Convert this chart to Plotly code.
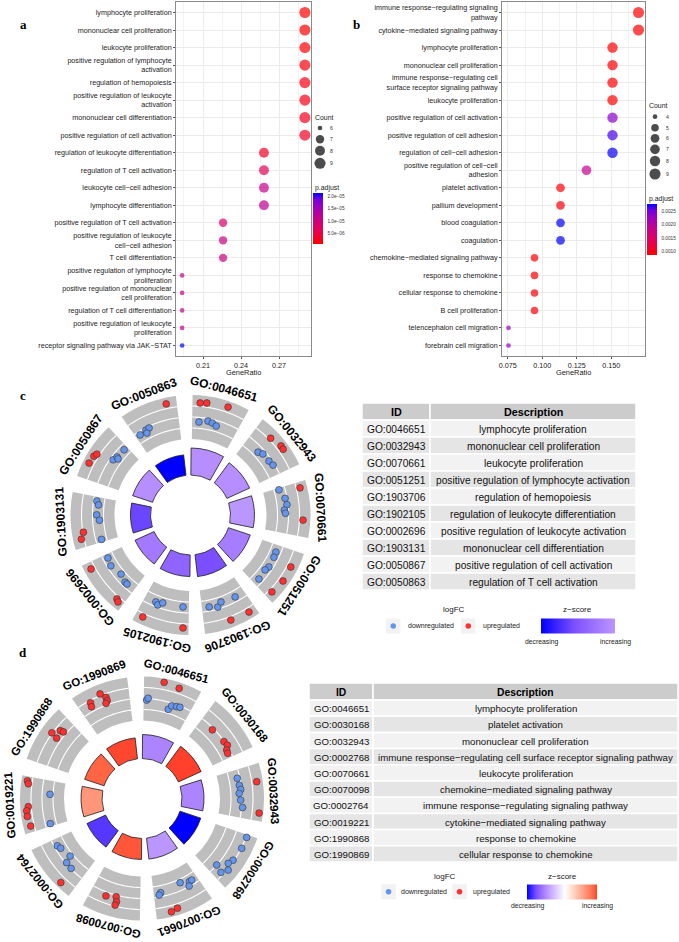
import numpy as np
import plotly.graph_objects as go

W, H = 679, 942
FONT = "Liberation Sans, Arial, sans-serif"
SERIF = "Liberation Serif, Times New Roman, serif"

# ---------------- panel a : GO dot plot ----------------
a_terms = [
    "lymphocyte proliferation",
    "mononuclear cell proliferation",
    "leukocyte proliferation",
    "positive regulation of lymphocyte<br>activation",
    "regulation of hemopoiesis",
    "positive regulation of leukocyte<br>activation",
    "mononuclear cell differentiation",
    "positive regulation of cell activation",
    "regulation of leukocyte differentiation",
    "regulation of T cell activation",
    "leukocyte cell−cell adhesion",
    "lymphocyte differentiation",
    "positive regulation of T cell activation",
    "positive regulation of leukocyte<br>cell−cell adhesion",
    "T cell differentiation",
    "positive regulation of lymphocyte<br>proliferation",
    "positive regulation of mononuclear<br>cell proliferation",
    "regulation of T cell differentiation",
    "positive regulation of leukocyte<br>proliferation",
    "receptor signaling pathway via JAK−STAT",
]
a_count = [9, 9, 9, 9, 9, 9, 9, 9, 8, 8, 8, 8, 7, 7, 7, 6, 6, 6, 6, 6]
a_total = 31
a_padj = [7.2e-7, 8.0e-7, 1.0e-6, 1.5e-6, 2.0e-6, 2.2e-6, 2.6e-6, 2.9e-6, 3.4e-6, 6.5e-6,
          1.12e-5, 1.2e-5, 7.9e-6, 1.05e-5, 1.05e-5, 1.1e-5, 1.1e-5, 1.1e-5, 1.12e-5, 2.12e-5]
a_xticks = [0.21, 0.24, 0.27]
a_xminor = [0.195, 0.225, 0.255, 0.285]
a_count_legend = [6, 7, 8, 9]
a_padj_ticks = [5e-6, 1e-5, 1.5e-5, 2e-5]
a_padj_ticktext = ["5.0e−06", "1.0e−05", "1.5e−05", "2.0e−05"]

# ---------------- panel b : GO dot plot ----------------
b_terms = [
    "immune response−regulating signaling<br>pathway",
    "cytokine−mediated signaling pathway",
    "lymphocyte proliferation",
    "mononuclear cell proliferation",
    "immune response−regulating cell<br>surface receptor signaling pathway",
    "leukocyte proliferation",
    "positive regulation of cell activation",
    "positive regulation of cell adhesion",
    "regulation of cell−cell adhesion",
    "positive regulation of cell−cell<br>adhesion",
    "platelet activation",
    "pallium development",
    "blood coagulation",
    "coagulation",
    "chemokine−mediated signaling pathway",
    "response to chemokine",
    "cellular response to chemokine",
    "B cell proliferation",
    "telencephalon cell migration",
    "forebrain cell migration",
]
b_count = [9, 9, 8, 8, 8, 8, 8, 8, 8, 7, 6, 6, 6, 6, 5, 5, 5, 5, 4, 4]
b_total = 53
b_padj = [0.00090, 0.00090, 0.00088, 0.00088, 0.00088, 0.00089, 0.00238, 0.00261, 0.00274, 0.00186,
          0.00092, 0.00094, 0.00276, 0.00276, 0.00090, 0.00090, 0.00090, 0.00092, 0.00227, 0.00227]
b_xticks = [0.075, 0.100, 0.125, 0.150]
b_xticktext = ["0.075", "0.100", "0.125", "0.150"]
b_xminor = [0.0875, 0.1125, 0.1375, 0.1625]
b_count_legend = [4, 5, 6, 7, 8, 9]
b_padj_ticks = [0.0010, 0.0015, 0.0020, 0.0025]
b_padj_ticktext = ["0.0010", "0.0015", "0.0020", "0.0025"]

# ---------------- panel c : GO circle ----------------
c_ids = ["GO:0046651", "GO:0032943", "GO:0070661", "GO:0051251", "GO:1903706",
         "GO:1902105", "GO:0002696", "GO:1903131", "GO:0050867", "GO:0050863"]
c_desc = ["lymphocyte proliferation", "mononuclear cell proliferation", "leukocyte proliferation",
          "positive regulation of lymphocyte activation", "regulation of hemopoiesis",
          "regulation of leukocyte differentiation", "positive regulation of leukocyte activation",
          "mononuclear cell differentiation", "positive regulation of cell activation",
          "regulation of T cell activation"]
c_zscore = [-1.6, -1.6, -1.5, -1.85, -2.5, -2.2, -1.9, -2.6, -1.6, -3.3]
c_neglogp = [6.14, 5.68, 5.45, 5.23, 5.0, 4.89, 4.77, 4.55, 4.77, 4.66]
c_up_pos = [[0.14, 0.26, 0.65], [0.33, 0.56, 0.63], [0.11, 0.70], [0.30, 0.59, 0.87], [0.50, 0.14],
            [0.86, 0.10], [0.875, 0.15, 0.10], [0.28, 0.16], [0.29, 0.44, 0.50], [0.81]]
c_up_y = [[1.31, 1.38, 1.48], [1.18, 1.44, 1.42], [1.35, 1.33], [1.36, 1.42, 1.27], [1.32, 1.39],
          [1.32, 1.38], [1.38, 1.24, 1.38], [0.95, 1.25], [1.45, 1.37, 1.24], [1.43]]
c_down_pos = [[0.15, 0.34, 0.44, 0.54], [0.36, 0.46, 0.66, 0.78], [0.04, 0.25, 0.39, 0.50, 0.57],
              [0.16, 0.28, 0.52, 0.62, 0.86], [0.84, 0.66, 0.56, 0.23], [0.74, 0.68, 0.59, 0.13],
              [0.91, 0.73, 0.45, 0.26, 0.20], [0.91, 0.83, 0.61, 0.49, 0.06], [0.59, 0.69, 0.67, 0.91],
              [0.10, 0.26, 0.34, 0.25]]
c_down_y = [[-0.42, -0.22, -0.32, -0.49], [-0.52, -0.30, -0.25, -0.14], [-0.55, -0.18, -0.09, -0.36, -0.27],
            [-0.45, -0.41, -0.36, -0.49, -0.39], [-0.38, -0.18, -0.53, -0.43], [-0.40, -0.21, -0.53, -0.52],
            [-0.45, -0.32, -0.62, -0.39, -0.38], [-0.30, -0.50, -0.38, -0.62, -0.52], [-0.27, -0.40, -0.58, -0.45],
            [-0.31, -0.19, -0.15, -0.47]]

# ---------------- panel d : GO circle ----------------
d_ids = ["GO:0046651", "GO:0030168", "GO:0032943", "GO:0002768", "GO:0070661",
         "GO:0070098", "GO:0002764", "GO:0019221", "GO:1990868", "GO:1990869"]
d_desc = ["lymphocyte proliferation", "platelet activation", "mononuclear cell proliferation",
          "immune response−regulating cell surface receptor signaling pathway", "leukocyte proliferation",
          "chemokine−mediated signaling pathway", "immune response−regulating signaling pathway",
          "cytokine−mediated signaling pathway", "response to chemokine", "cellular response to chemokine"]
d_zscore = [-1.41, 2.24, -1.41, -2.65, -1.2, 2.1, -2.2, 1.41, 2.0, 2.2]
d_neglogp = [5.45, 5.68, 5.0, 5.0, 4.77, 4.77, 4.66, 4.77, 4.66, 4.77]
d_up_pos = [[0.35, 0.63], [0.31, 0.65, 0.75, 0.83, 0.90], [0.31, 0.86], [], [0.73, 0.61],
            [0.69, 0.49, 0.46, 0.47], [0.25], [0.92, 0.87, 0.46, 0.39, 0.29, 0.11],
            [0.61, 0.58, 0.74, 0.76], [0.47, 0.24, 0.22, 0.55, 0.55, 0.51]]
d_up_y = [[1.66, 1.48], [-0.15, -0.02, 0.06, -0.22, -0.28], [1.45, 1.64], [], [1.55, 1.39],
          [0.35, 0.15, 0.57, 0.90], [1.53], [1.45, 1.33, 1.27, 1.45, 1.46, 1.33],
          [1.05, 0.42, 0.55, 0.27], [1.15, 0.79, 0.43, 0.67, 0.35, 0.16]]
d_down_pos = [[0.06, 0.09, 0.55, 0.60, 0.70, 0.77], [], [0.18, 0.33, 0.42, 0.50, 0.64, 0.79],
              [0.05, 0.27, 0.54, 0.64, 0.81, 0.86, 0.74], [0.38, 0.19, 0.13, 0.24, 0.85, 0.89], [],
              [0.85, 0.77, 0.51, 0.45, 0.30], [0.70, 0.06], [], []]
d_down_y = [[-0.13, 0.04, -0.64, -0.25, -0.17, -0.11], [], [-0.24, -0.16, -0.08, -0.24, -0.12, 0.09],
            [1.06, 1.04, 0.91, 0.72, 0.0, 0.74, 1.09], [-0.69, -0.39, -0.41, -0.05, -0.36, -0.18], [],
            [-0.27, -0.43, -0.72, -0.09, -0.04], [-0.72, -0.45], [], []]

# ---------------- styles ----------------
PSCALE = [[0, '#FF0000'], [0.25, '#E8004F'], [0.5, '#C90089'], [0.75, '#9900C2'],
          [0.875, '#7300DF'], [1, '#0000FF']]
Z_STOPS = [(0, '#0000FF'), (0.125, '#7E51FF'), (0.25, '#B38BFF'), (0.375, '#DCC5FF'), (0.5, '#FFFFFF'),
           (0.625, '#FFD0BE'), (0.75, '#FF9D82'), (0.875, '#FF6845'), (1, '#FF0000')]
BLUE_PT = '#6495ED'
RED_PT = '#FF3030'
GRAY_SEG = '#BEBEBE'
TXT = '#1a1a1a'


def hex2rgb(h):
    h = h.lstrip('#')
    return np.array([int(h[i:i + 2], 16) for i in (0, 2, 4)], float)


def grad_at(t):
    ts = [s[0] for s in Z_STOPS]
    cs = [hex2rgb(s[1]) for s in Z_STOPS]
    t = min(max(t, 0), 1)
    for k in range(len(ts) - 1):
        if ts[k] <= t <= ts[k + 1]:
            f = (t - ts[k]) / (ts[k + 1] - ts[k])
            c = cs[k] + f * (cs[k + 1] - cs[k])
            return 'rgb(%d,%d,%d)' % tuple(np.round(c))
    return 'rgb(255,0,0)'


def sub_scale(zmin, zmax):
    L = max(abs(zmin), abs(zmax))
    t0, t1 = 0.5 + zmin / (2 * L), 0.5 + zmax / (2 * L)
    n = 24
    return [[k / n, grad_at(t0 + (t1 - t0) * k / n)] for k in range(n + 1)]


def dot_size(c, lo, hi):
    c = np.asarray(c, float)
    return 4.7 + 6.4 * np.sqrt((c - lo) / (hi - lo))


fig = go.Figure()
annotations = []
shapes = []


def text(x, y, s, size, anchor='center', color=TXT, family=FONT, angle=0):
    annotations.append(dict(x=x, y=y, xref='x3', yref='y3', text=s, showarrow=False, xanchor=anchor,
                            yanchor='middle', textangle=angle, font=dict(size=size, family=family, color=color)))


# ---------------- dot plots ----------------
def dotplot(terms, count, total, padj, xax, yax, cb):
    ratio = np.array(count, float) / total
    fig.add_trace(go.Scatter(
        x=ratio, y=np.arange(len(terms)), mode='markers', xaxis=xax, yaxis=yax,
        marker=dict(size=dot_size(count, min(count), max(count)), color=padj, colorscale=PSCALE,
                    cmin=min(padj), cmax=max(padj), line=dict(width=0), showscale=True, colorbar=cb),
        showlegend=False, hoverinfo='skip'))
    lo, hi = ratio.min(), ratio.max()
    pad = 0.05 * (hi - lo)
    return [lo - pad, hi + pad]


def cbar(x_px, yc_px, ticks, ticktext):
    return dict(x=x_px / W, xanchor='left', y=1 - yc_px / H, yanchor='middle', len=51, lenmode='pixels',
                thickness=10, thicknessmode='pixels', xpad=0, ypad=0, outlinewidth=0,
                tickmode='array', tickvals=ticks, ticktext=ticktext, ticks='outside', ticklen=4,
                tickcolor='rgba(0,0,0,0)', tickfont=dict(size=4.7, family=FONT, color='#333'))


a_range = dotplot(a_terms, a_count, a_total, a_padj, 'x', 'y', cbar(313, 218.5, a_padj_ticks, a_padj_ticktext))
b_range = dotplot(b_terms, b_count, b_total, b_padj, 'x2', 'y2', cbar(647, 229.5, b_padj_ticks, b_padj_ticktext))

common_x = dict(showline=True, mirror=True, linecolor='#8a8a8a', linewidth=0.8, ticks='outside', ticklen=2,
                tickcolor='#555', tickfont=dict(size=7.2, family=FONT, color='#222'), showgrid=True,
                gridcolor='#EBEBEB', gridwidth=0.7, zeroline=False, fixedrange=True)
plot_ydom = [1 - 356 / H, 1 - 2 / H]
fig.update_layout(
    xaxis=dict(domain=[176 / W, 311 / W], range=a_range, anchor='y', tickmode='array', tickvals=a_xticks,
               ticktext=[f"{v:.2f}" for v in a_xticks],
               minor=dict(tickmode='array', tickvals=a_xminor, showgrid=True, gridcolor='#F3F3F3', gridwidth=0.5),
               **common_x),
    yaxis=dict(domain=plot_ydom, range=[len(a_terms) - 0.4, -0.6], anchor='x', tickmode='array',
               tickvals=list(range(len(a_terms))), ticktext=a_terms, **common_x),
    xaxis2=dict(domain=[502 / W, 645 / W], range=b_range, anchor='y2', tickmode='array', tickvals=b_xticks,
                ticktext=b_xticktext,
                minor=dict(tickmode='array', tickvals=b_xminor, showgrid=True, gridcolor='#F3F3F3', gridwidth=0.5),
                **common_x),
    yaxis2=dict(domain=plot_ydom, range=[len(b_terms) - 0.4, -0.6], anchor='x2', tickmode='array',
                tickvals=list(range(len(b_terms))), ticktext=b_terms, **common_x),
    xaxis3=dict(domain=[0, 1], range=[0, W], anchor='y3', visible=False, fixedrange=True),
    yaxis3=dict(domain=[0, 1], range=[H, 0], anchor='x3', visible=False, fixedrange=True),
)

# axis titles
for xc in (243.5, 573.7):
    text(xc, 372.8, 'GeneRatio', 7.4)


# count legends
def count_legend(counts, lo, hi, x_dot, ys, x_lab, title_xy, padj_xy):
    fig.add_trace(go.Scatter(x=[x_dot] * len(counts), y=ys, mode='markers', xaxis='x3', yaxis='y3',
                             marker=dict(size=dot_size(counts, lo, hi), color='black', line=dict(width=0)),
                             showlegend=False, hoverinfo='skip'))
    for c, yy in zip(counts, ys):
        text(x_lab, yy, str(c), 5.2, 'left', '#333')
    text(title_xy[0], title_xy[1], 'Count', 6.9, 'left')
    text(padj_xy[0], padj_xy[1], 'p.adjust', 6.9, 'left')


count_legend(a_count_legend, min(a_count), max(a_count), 320, [128, 139.3, 150.7, 163.3], 327.5,
             (312.5, 117), (312.5, 187.5))
count_legend(b_count_legend, min(b_count), max(b_count), 655, [116.7, 127.7, 138.3, 149.3, 161, 174], 664,
             (647, 105), (647, 198.5))

# panel letters
for letter, (lx, ly) in zip("abcd", [(23, 24), (356, 24), (23, 395), (23, 652)]):
    text(lx, ly, f"<b>{letter}</b>", 13, family=SERIF, color='black')

# ---------------- GO circles ----------------
ROT = -3.0
SEG_W = 28.0
BAR_W = 29.0
HOLE = 40.0
BAR_K = 4.4
RING_W = 44.0
R_DOM = 125.0


def go_circle(name, ids, z, neglogp, up_pos, up_y, down_pos, down_y, cx, cy, ring0, label_r, label_size, cb):
    n = len(ids)
    step = 360.0 / n
    centers = [ROT + step * (i + 0.5) for i in range(n)]
    fig.add_trace(go.Barpolar(theta=centers, r=[RING_W] * n, base=ring0, width=SEG_W, subplot=name,
                              marker=dict(color=GRAY_SEG, line=dict(width=0)), showlegend=False, hoverinfo='skip'))
    th_all, r_all = [], []
    for cth in centers:
        th = np.linspace(cth - SEG_W / 2, cth + SEG_W / 2, 30)
        for k in (1, 2, 3):
            th_all += list(th) + [None]
            r_all += [ring0 + k * RING_W / 4] * len(th) + [None]
    fig.add_trace(go.Scatterpolar(theta=th_all, r=r_all, mode='lines', subplot=name,
                                  line=dict(color='white', width=1.1), showlegend=False, hoverinfo='skip'))
    fig.add_trace(go.Barpolar(theta=centers, r=np.array(neglogp) * BAR_K, base=HOLE, width=BAR_W, subplot=name,
                              marker=dict(color=z, colorscale=sub_scale(min(z), max(z)), cmin=min(z), cmax=max(z),
                                          line=dict(color='#1a1a1a', width=0.8), showscale=True, colorbar=cb),
                              showlegend=False, hoverinfo='skip'))
    mid = ring0 + RING_W / 2
    for pos_l, y_l, col in ((down_pos, down_y, BLUE_PT), (up_pos, up_y, RED_PT)):
        th, rr = [], []
        for i, cth in enumerate(centers):
            for p, yv in zip(pos_l[i], y_l[i]):
                th.append(cth - SEG_W / 2 + SEG_W * p)
                rr.append(mid + RING_W / 4 * yv)
        fig.add_trace(go.Scatterpolar(theta=th, r=rr, mode='markers', subplot=name,
                                      marker=dict(size=6.8, color=col, line=dict(color='#333', width=0.6)),
                                      showlegend=False, hoverinfo='skip'))
    for i, cth in enumerate(centers):
        x = cx + label_r * np.sin(np.radians(cth))
        y = cy - label_r * np.cos(np.radians(cth))
        ang = cth if cth <= 180 else cth - 360
        text(x, y, f"<b>{ids[i]}</b>", label_size, color='black', angle=ang)
    return dict(domain=dict(x=[(cx - R_DOM) / W, (cx + R_DOM) / W], y=[1 - (cy + R_DOM) / H, 1 - (cy - R_DOM) / H]),
                bgcolor='rgba(0,0,0,0)', barmode='overlay', hole=0,
                radialaxis=dict(range=[0, R_DOM], visible=False, showgrid=False),
                angularaxis=dict(rotation=90, direction='clockwise', showgrid=False, showline=False,
                                 showticklabels=False, ticks=''))


def zcbar(xc, yc, length):
    return dict(orientation='h', x=xc / W, xanchor='center', y=1 - yc / H, yanchor='middle', len=length,
                lenmode='pixels', thickness=15, thicknessmode='pixels', xpad=0, ypad=0, outlinewidth=0,
                showticklabels=False, ticks='')


polar_c = go_circle('polar', c_ids, c_zscore, c_neglogp, c_up_pos, c_up_y, c_down_pos, c_down_y,
                    190.5, 515, 76, 130, 12, zcbar(578, 625.7, 74))
polar_d = go_circle('polar2', d_ids, d_zscore, d_neglogp, d_up_pos, d_up_y, d_down_pos, d_down_y,
                    142, 798.5, 78, 132, 11.5, zcbar(561.7, 891.7, 70))


# ---------------- tables (drawn as cells) ----------------
def table(ids, desc, x0, xm, x1, y0, head_h, row_h, fsize, hsize):
    def cell(xa, xb, ya, yb, fill):
        shapes.append(dict(type='rect', xref='x3', yref='y3', x0=xa, x1=xb, y0=ya, y1=yb, fillcolor=fill,
                           line=dict(color='white', width=1.5), layer='above'))
    cell(x0, xm, y0, y0 + head_h, '#CCCCCC')
    cell(xm, x1, y0, y0 + head_h, '#CCCCCC')
    text((x0 + xm) / 2, y0 + head_h / 2 + 0.5, '<b>ID</b>', hsize, color='black')
    text((xm + x1) / 2, y0 + head_h / 2 + 0.5, '<b>Description</b>', hsize, color='black')
    for k, (gid, ds) in enumerate(zip(ids, desc)):
        ya = y0 + head_h + k * row_h
        fill = '#F2F2F2' if k % 2 == 0 else '#E5E5E5'
        cell(x0, xm, ya, ya + row_h, fill)
        cell(xm, x1, ya, ya + row_h, fill)
        text((x0 + xm) / 2, ya + row_h / 2 + 0.5, gid, fsize, color='#111')
        text((xm + x1) / 2, ya + row_h / 2 + 0.5, ds, fsize, color='#111')


table(c_ids, c_desc, 362, 430, 636, 403, 17, 17, 10.2, 10.8)
table(d_ids, d_desc, 309, 373, 678, 683, 17, 16.2, 9.7, 10.3)


# ---------------- logFC / z-score legends ----------------
def circle_legend(lfc_x, title_y, key_blue_x, key_red_x, key_y, lab_blue_x, lab_red_x, z_x, cb_x0, cb_x1, dec_y):
    for kx in (key_blue_x, key_red_x):
        shapes.append(dict(type='rect', xref='x3', yref='y3', x0=kx, x1=kx + 14.5, y0=key_y - 7.5, y1=key_y + 7.5,
                           fillcolor='#F2F2F2', line=dict(width=0), layer='below'))
    fig.add_trace(go.Scatter(x=[key_blue_x + 7.25, key_red_x + 7.25], y=[key_y, key_y], mode='markers',
                             xaxis='x3', yaxis='y3', marker=dict(size=5.5, color=[BLUE_PT, RED_PT], line=dict(width=0)),
                             showlegend=False, hoverinfo='skip'))
    text(lfc_x, title_y, 'logFC', 8)
    text(z_x, title_y, 'z−score', 8)
    text(lab_blue_x, key_y, 'downregulated', 7.0, 'left', '#222')
    text(lab_red_x, key_y, 'upregulated', 7.0, 'left', '#222')
    text(cb_x0, dec_y, 'decreasing', 6.8, color='#222')
    text(cb_x1, dec_y, 'increasing', 6.8, color='#222')


circle_legend(453.7, 609.5, 386, 461, 626, 405.5, 480.5, 577.7, 541, 615, 641.5)
circle_legend(445, 876, 381.3, 452.3, 891.7, 399, 470.5, 562, 527, 597.3, 906)

fig.update_layout(
    width=W, height=H, margin=dict(l=0, r=0, t=0, b=0), template='none',
    paper_bgcolor='white', plot_bgcolor='rgba(0,0,0,0)', showlegend=False,
    font=dict(family=FONT, color='#222'),
    polar=polar_c, polar2=polar_d,
    annotations=annotations, shapes=shapes,
)

fig.write_html("out.html", config={'displayModeBar': False},
               post_script="document.body.style.margin='0';")
